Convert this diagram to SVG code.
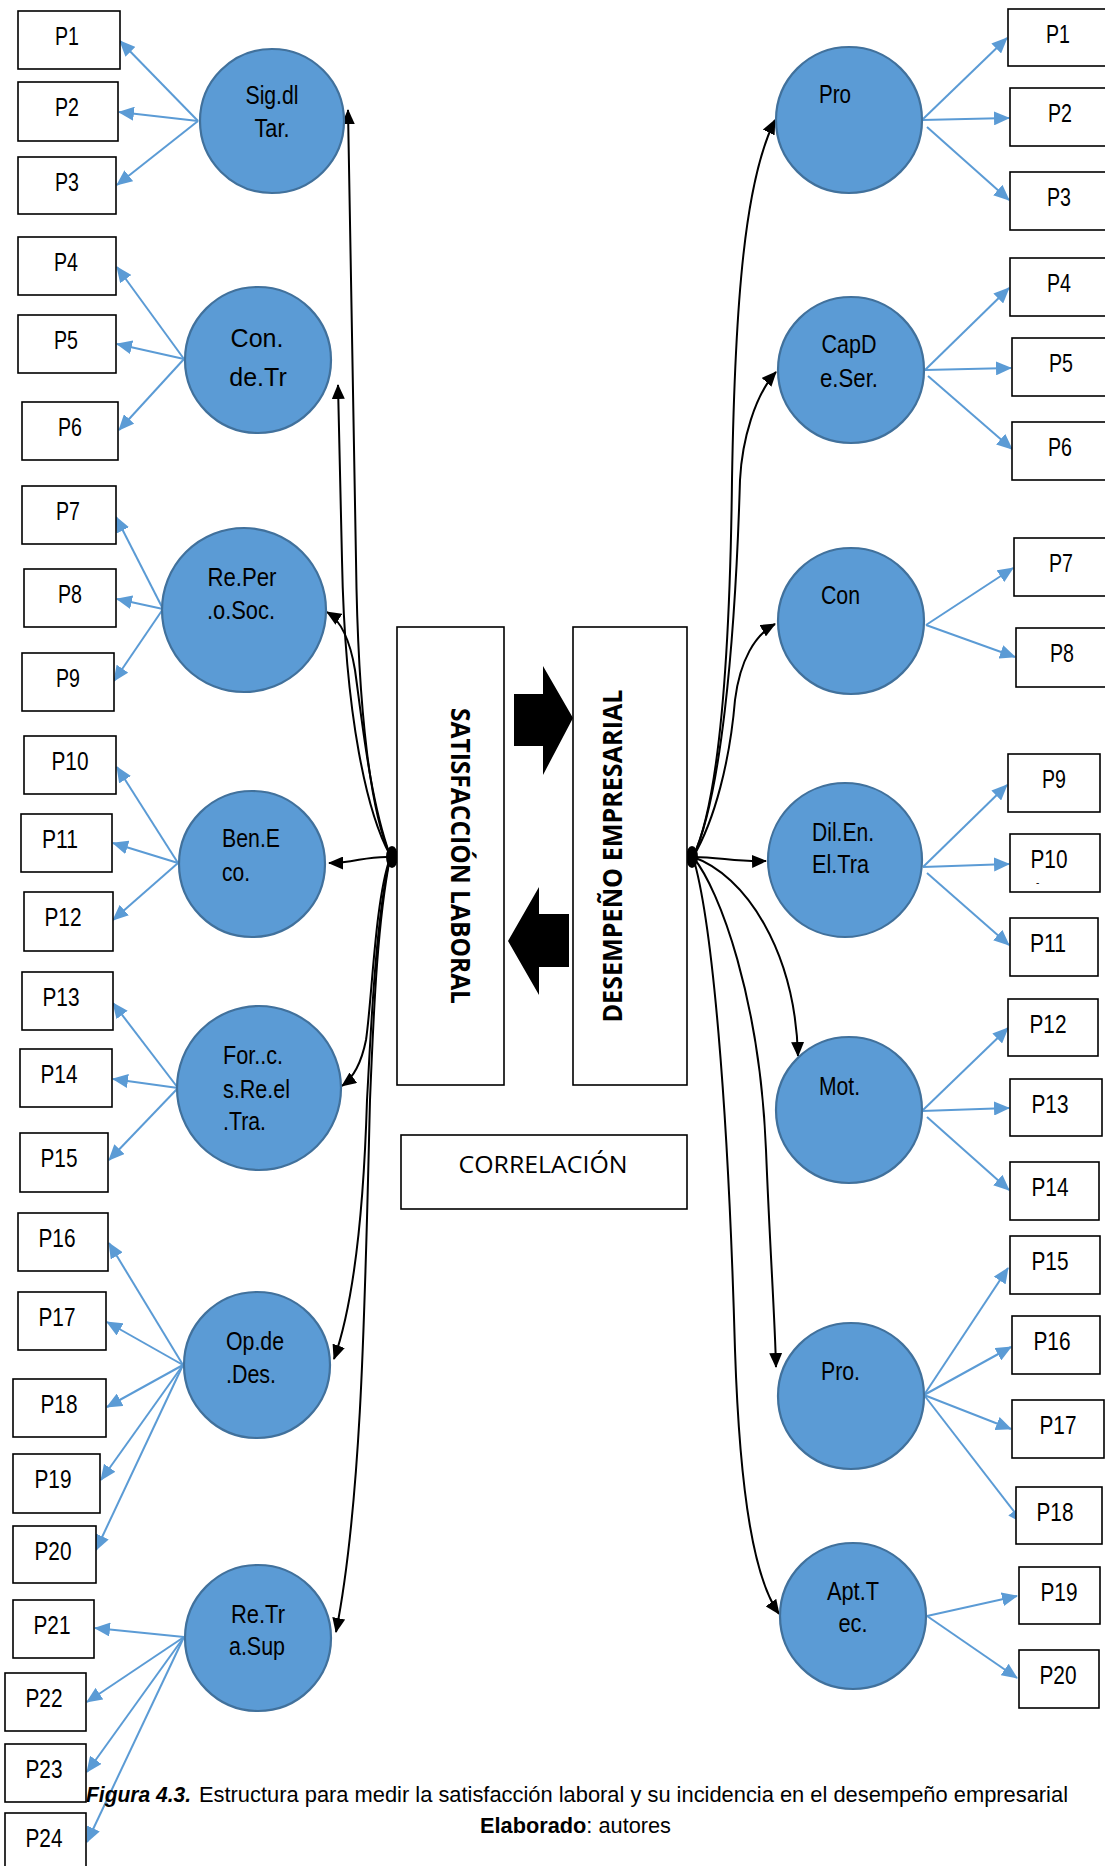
<svg xmlns="http://www.w3.org/2000/svg" width="1105" height="1866" viewBox="0 0 1105 1866">
<defs>
<style>
.box{fill:#fff;stroke:#000;stroke-width:1.6}
.circ{fill:#5B9BD5;stroke:#41719C;stroke-width:2.2}
.pl{font-family:"Liberation Sans Narrow","Arial Narrow","Liberation Sans",sans-serif;font-size:25px;text-anchor:middle;fill:#000}
.cn{font-family:"Liberation Sans Narrow","Arial Narrow","Liberation Sans",sans-serif;font-size:25px;fill:#000}
.cw{font-family:"Liberation Sans",Arial,sans-serif;font-size:25px;fill:#000;text-anchor:middle}
.mid{text-anchor:middle}
.bl{stroke:#5B9BD5;stroke-width:2;fill:none;marker-end:url(#ab)}
.bk{stroke:#000;stroke-width:2;fill:none;marker-end:url(#ak)}
.big{font-family:"Open Sans","Liberation Sans",sans-serif;font-weight:bold;font-size:27px;text-anchor:middle;fill:#000}
.cap{font-family:"Liberation Sans Narrow","Arial Narrow","Liberation Sans",sans-serif;font-size:22px;fill:#000}
</style>
<marker id="ab" markerUnits="userSpaceOnUse" markerWidth="16" markerHeight="14" viewBox="0 0 16 14" refX="15" refY="7" orient="auto"><path d="M0,0 L16,7 L0,14 Z" fill="#5B9BD5"/></marker>
<marker id="ak" markerUnits="userSpaceOnUse" markerWidth="15" markerHeight="13" viewBox="0 0 15 13" refX="14" refY="6.5" orient="auto"><path d="M0,0 L15,6.5 L0,13 Z" fill="#000"/></marker>
</defs>
<rect width="1105" height="1866" fill="#fff"/>

<g id="connectors">
<path class="bk" d="M390,855 C372,815 358,720 356,560 L348,110"/>
<path class="bk" d="M390,855 C368,815 345,720 342,560 L338,385"/>
<path class="bk" d="M390,855 C370,800 362,720 355,670 C350,640 340,620 327,612"/>
<path class="bk" d="M390,857 C365,856 355,863 329,863"/>
<path class="bk" d="M390,858 C375,900 372,1000 366,1040 C361,1065 353,1078 342,1086"/>
<path class="bk" d="M390,858 C375,920 370,1050 367,1100 C364,1200 355,1300 334,1359"/>
<path class="bk" d="M390,858 C378,920 374,1000 370,1100 C365,1300 362,1500 336,1632"/>
<path class="bk" d="M693,857 C720,800 730,650 732,480 C735,300 745,180 775,120"/>
<path class="bk" d="M693,857 C720,800 735,650 740,480 C742,440 755,395 776,372"/>
<path class="bk" d="M693,857 C715,820 730,760 735,700 C740,660 755,635 775,624"/>
<path class="bk" d="M693,857 C720,857 735,862 766,861"/>
<path class="bk" d="M693,857 C745,875 795,950 798,1056"/>
<path class="bk" d="M693,857 C720,890 760,1000 766,1150 C770,1250 775,1320 776,1367"/>
<path class="bk" d="M693,857 C712,920 728,1100 735,1350 C740,1500 755,1580 779,1614"/>
<path class="bl" d="M198,121 L120,41"/>
<path class="bl" d="M198,121 L119,112"/>
<path class="bl" d="M198,121 L117,185"/>
<path class="bl" d="M184,359 L117,267"/>
<path class="bl" d="M184,359 L117,344"/>
<path class="bl" d="M184,359 L119,430"/>
<path class="bl" d="M163,609 L116,517"/>
<path class="bl" d="M163,609 L117,599"/>
<path class="bl" d="M163,609 L114,681"/>
<path class="bl" d="M178,863 L117,767"/>
<path class="bl" d="M178,863 L113,843"/>
<path class="bl" d="M178,863 L113,920"/>
<path class="bl" d="M178,1088 L113,1003"/>
<path class="bl" d="M178,1088 L113,1079"/>
<path class="bl" d="M178,1088 L109,1160"/>
<path class="bl" d="M183,1365 L109,1243"/>
<path class="bl" d="M183,1365 L107,1322"/>
<path class="bl" d="M183,1365 L107,1407"/>
<path class="bl" d="M183,1365 L101,1480"/>
<path class="bl" d="M183,1365 L96,1550"/>
<path class="bl" d="M184,1637 L95,1628"/>
<path class="bl" d="M184,1637 L87,1702"/>
<path class="bl" d="M184,1637 L87,1772"/>
<path class="bl" d="M184,1637 L87,1842"/>
<path class="bl" d="M922,120 L1007,38"/>
<path class="bl" d="M922,120 L1009,118"/>
<path class="bl" d="M927,127 L1009,200"/>
<path class="bl" d="M925,370 L1009,288"/>
<path class="bl" d="M925,370 L1011,368"/>
<path class="bl" d="M928,376 L1012,449"/>
<path class="bl" d="M926,625 L1013,568"/>
<path class="bl" d="M926,625 L1015,657"/>
<path class="bl" d="M923,867 L1007,785"/>
<path class="bl" d="M923,867 L1009,864"/>
<path class="bl" d="M927,873 L1009,945"/>
<path class="bl" d="M922,1111 L1008,1028"/>
<path class="bl" d="M922,1111 L1009,1108"/>
<path class="bl" d="M927,1117 L1009,1190"/>
<path class="bl" d="M924,1395 L1008,1268"/>
<path class="bl" d="M924,1395 L1011,1347"/>
<path class="bl" d="M924,1395 L1011,1429"/>
<path class="bl" d="M924,1395 L1023,1523"/>
<path class="bl" d="M927,1616 L1017,1596"/>
<path class="bl" d="M927,1616 L1017,1678"/>
<ellipse cx="392" cy="857" rx="6" ry="11" fill="#000"/>
<ellipse cx="692" cy="857" rx="6" ry="11" fill="#000"/>
</g>

<g id="satisfaccion">
<rect class="box" x="397" y="627" width="107" height="458" stroke-width="2.4"/>
<text class="big" transform="translate(451,856) rotate(90)" textLength="296" lengthAdjust="spacingAndGlyphs">SATISFACCIÓN LABORAL</text>
</g>
<g id="desempeno">
<rect class="box" x="573" y="627" width="114" height="458" stroke-width="2.4"/>
<text class="big" transform="translate(622,856) rotate(-90)" textLength="333" lengthAdjust="spacingAndGlyphs">DESEMPEÑO EMPRESARIAL</text>
</g>
<g id="block-arrows">
<polygon points="514,694 543,694 543,666 573,718 543,775 543,746 514,746" fill="#000"/>
<polygon points="508,941 539,887 539,914 569,914 569,967 539,967 539,995" fill="#000"/>
</g>
<g id="correlacion">
<rect class="box" x="401" y="1135" width="286" height="74"/>
<text x="543" y="1173" font-family="Open Sans, Liberation Sans, sans-serif" font-size="24" text-anchor="middle" textLength="169" lengthAdjust="spacingAndGlyphs">CORRELACIÓN</text>
</g>

<g id="c-sig"><circle class="circ" cx="272" cy="121" r="72"/><text class="cn mid" x="272" y="104" textLength="53" lengthAdjust="spacingAndGlyphs">Sig.dl</text><text class="cn mid" x="272" y="137" textLength="35" lengthAdjust="spacingAndGlyphs">Tar.</text></g>
<g id="c-con"><circle class="circ" cx="258" cy="360" r="73"/><text class="cw" x="257" y="347">Con.</text><text class="cw" x="258" y="386">de.Tr</text></g>
<g id="c-reper"><circle class="circ" cx="244" cy="610" r="82"/><text class="cn mid" x="242" y="586" textLength="69" lengthAdjust="spacingAndGlyphs">Re.Per</text><text class="cn mid" x="241" y="619" textLength="68" lengthAdjust="spacingAndGlyphs">.o.Soc.</text></g>
<g id="c-ben"><circle class="circ" cx="252" cy="864" r="73"/><text class="cn" x="222" y="847" textLength="58" lengthAdjust="spacingAndGlyphs">Ben.E</text><text class="cn" x="222" y="881" textLength="28" lengthAdjust="spacingAndGlyphs">co.</text></g>
<g id="c-for"><circle class="circ" cx="259" cy="1088" r="82"/><text class="cn" x="223" y="1064" textLength="60" lengthAdjust="spacingAndGlyphs">For..c.</text><text class="cn" x="223" y="1098" textLength="67" lengthAdjust="spacingAndGlyphs">s.Re.el</text><text class="cn" x="223" y="1130" textLength="43" lengthAdjust="spacingAndGlyphs">.Tra.</text></g>
<g id="c-op"><circle class="circ" cx="257" cy="1365" r="73"/><text class="cn" x="226" y="1350" textLength="58" lengthAdjust="spacingAndGlyphs">Op.de</text><text class="cn" x="226" y="1383" textLength="50" lengthAdjust="spacingAndGlyphs">.Des.</text></g>
<g id="c-retr"><circle class="circ" cx="258" cy="1638" r="73"/><text class="cn mid" x="258" y="1623" textLength="54" lengthAdjust="spacingAndGlyphs">Re.Tr</text><text class="cn mid" x="257" y="1655" textLength="56" lengthAdjust="spacingAndGlyphs">a.Sup</text></g>

<g id="c-pro"><circle class="circ" cx="849" cy="120" r="73"/><text class="cn" x="819" y="103" textLength="32" lengthAdjust="spacingAndGlyphs">Pro</text></g>
<g id="c-capd"><circle class="circ" cx="851" cy="370" r="73"/><text class="cn mid" x="849" y="353" textLength="55" lengthAdjust="spacingAndGlyphs">CapD</text><text class="cn mid" x="849" y="387" textLength="58" lengthAdjust="spacingAndGlyphs">e.Ser.</text></g>
<g id="c-con2"><circle class="circ" cx="851" cy="621" r="73"/><text class="cn" x="821" y="604" textLength="39" lengthAdjust="spacingAndGlyphs">Con</text></g>
<g id="c-dil"><circle class="circ" cx="845" cy="860" r="77"/><text class="cn" x="812" y="841" textLength="62" lengthAdjust="spacingAndGlyphs">Dil.En.</text><text class="cn" x="812" y="873" textLength="57" lengthAdjust="spacingAndGlyphs">El.Tra</text></g>
<g id="c-mot"><circle class="circ" cx="849" cy="1110" r="73"/><text class="cn" x="819" y="1095" textLength="41" lengthAdjust="spacingAndGlyphs">Mot.</text></g>
<g id="c-pro2"><circle class="circ" cx="851" cy="1396" r="73"/><text class="cn" x="821" y="1380" textLength="39" lengthAdjust="spacingAndGlyphs">Pro.</text></g>
<g id="c-apt"><circle class="circ" cx="853" cy="1616" r="73"/><text class="cn mid" x="853" y="1600" textLength="52" lengthAdjust="spacingAndGlyphs">Apt.T</text><text class="cn mid" x="853" y="1632" textLength="29" lengthAdjust="spacingAndGlyphs">ec.</text></g>

<g id="L1"><rect class="box" x="18" y="11" width="102" height="58"/><text class="pl" x="67" y="45" textLength="24" lengthAdjust="spacingAndGlyphs">P1</text></g>
<g id="L2"><rect class="box" x="18" y="82" width="100" height="59"/><text class="pl" x="67" y="116" textLength="24" lengthAdjust="spacingAndGlyphs">P2</text></g>
<g id="L3"><rect class="box" x="18" y="157" width="98" height="57"/><text class="pl" x="67" y="191" textLength="24" lengthAdjust="spacingAndGlyphs">P3</text></g>
<g id="L4"><rect class="box" x="18" y="237" width="98" height="58"/><text class="pl" x="66" y="271" textLength="24" lengthAdjust="spacingAndGlyphs">P4</text></g>
<g id="L5"><rect class="box" x="18" y="315" width="98" height="58"/><text class="pl" x="66" y="349" textLength="24" lengthAdjust="spacingAndGlyphs">P5</text></g>
<g id="L6"><rect class="box" x="22" y="402" width="96" height="58"/><text class="pl" x="70" y="436" textLength="24" lengthAdjust="spacingAndGlyphs">P6</text></g>
<g id="L7"><rect class="box" x="22" y="486" width="94" height="58"/><text class="pl" x="68" y="520" textLength="24" lengthAdjust="spacingAndGlyphs">P7</text></g>
<g id="L8"><rect class="box" x="24" y="569" width="92" height="58"/><text class="pl" x="70" y="603" textLength="24" lengthAdjust="spacingAndGlyphs">P8</text></g>
<g id="L9"><rect class="box" x="22" y="653" width="92" height="58"/><text class="pl" x="68" y="687" textLength="24" lengthAdjust="spacingAndGlyphs">P9</text></g>
<g id="L10"><rect class="box" x="24" y="736" width="92" height="58"/><text class="pl" x="70" y="770" textLength="37" lengthAdjust="spacingAndGlyphs">P10</text></g>
<g id="L11"><rect class="box" x="21" y="814" width="91" height="58"/><text class="pl" x="60" y="848" textLength="36" lengthAdjust="spacingAndGlyphs">P11</text></g>
<g id="L12"><rect class="box" x="24" y="892" width="89" height="59"/><text class="pl" x="63" y="926" textLength="37" lengthAdjust="spacingAndGlyphs">P12</text></g>
<g id="L13"><rect class="box" x="22" y="972" width="91" height="58"/><text class="pl" x="61" y="1006" textLength="37" lengthAdjust="spacingAndGlyphs">P13</text></g>
<g id="L14"><rect class="box" x="20" y="1049" width="92" height="58"/><text class="pl" x="59" y="1083" textLength="37" lengthAdjust="spacingAndGlyphs">P14</text></g>
<g id="L15"><rect class="box" x="20" y="1133" width="88" height="59"/><text class="pl" x="59" y="1167" textLength="37" lengthAdjust="spacingAndGlyphs">P15</text></g>
<g id="L16"><rect class="box" x="18" y="1213" width="90" height="58"/><text class="pl" x="57" y="1247" textLength="37" lengthAdjust="spacingAndGlyphs">P16</text></g>
<g id="L17"><rect class="box" x="18" y="1292" width="88" height="58"/><text class="pl" x="57" y="1326" textLength="37" lengthAdjust="spacingAndGlyphs">P17</text></g>
<g id="L18"><rect class="box" x="13" y="1379" width="93" height="58"/><text class="pl" x="59" y="1413" textLength="37" lengthAdjust="spacingAndGlyphs">P18</text></g>
<g id="L19"><rect class="box" x="13" y="1454" width="87" height="59"/><text class="pl" x="53" y="1488" textLength="37" lengthAdjust="spacingAndGlyphs">P19</text></g>
<g id="L20"><rect class="box" x="13" y="1526" width="83" height="57"/><text class="pl" x="53" y="1560" textLength="37" lengthAdjust="spacingAndGlyphs">P20</text></g>
<g id="L21"><rect class="box" x="13" y="1600" width="81" height="58"/><text class="pl" x="52" y="1634" textLength="37" lengthAdjust="spacingAndGlyphs">P21</text></g>
<g id="L22"><rect class="box" x="5" y="1673" width="81" height="58"/><text class="pl" x="44" y="1707" textLength="37" lengthAdjust="spacingAndGlyphs">P22</text></g>
<g id="L23"><rect class="box" x="5" y="1744" width="81" height="58"/><text class="pl" x="44" y="1778" textLength="37" lengthAdjust="spacingAndGlyphs">P23</text></g>
<g id="L24"><rect class="box" x="5" y="1813" width="81" height="60"/><text class="pl" x="44" y="1847" textLength="37" lengthAdjust="spacingAndGlyphs">P24</text></g>

<g id="R1"><rect class="box" x="1008" y="9" width="104" height="57"/><text class="pl" x="1058" y="43" textLength="24" lengthAdjust="spacingAndGlyphs">P1</text></g>
<g id="R2"><rect class="box" x="1010" y="88" width="102" height="58"/><text class="pl" x="1060" y="122" textLength="24" lengthAdjust="spacingAndGlyphs">P2</text></g>
<g id="R3"><rect class="box" x="1010" y="172" width="102" height="58"/><text class="pl" x="1059" y="206" textLength="24" lengthAdjust="spacingAndGlyphs">P3</text></g>
<g id="R4"><rect class="box" x="1010" y="258" width="102" height="58"/><text class="pl" x="1059" y="292" textLength="24" lengthAdjust="spacingAndGlyphs">P4</text></g>
<g id="R5"><rect class="box" x="1012" y="338" width="100" height="58"/><text class="pl" x="1061" y="372" textLength="24" lengthAdjust="spacingAndGlyphs">P5</text></g>
<g id="R6"><rect class="box" x="1012" y="422" width="100" height="58"/><text class="pl" x="1060" y="456" textLength="24" lengthAdjust="spacingAndGlyphs">P6</text></g>
<g id="R7"><rect class="box" x="1014" y="538" width="98" height="58"/><text class="pl" x="1061" y="572" textLength="24" lengthAdjust="spacingAndGlyphs">P7</text></g>
<g id="R8"><rect class="box" x="1016" y="628" width="96" height="59"/><text class="pl" x="1062" y="662" textLength="24" lengthAdjust="spacingAndGlyphs">P8</text></g>
<g id="R9"><rect class="box" x="1008" y="754" width="92" height="58"/><text class="pl" x="1054" y="788" textLength="24" lengthAdjust="spacingAndGlyphs">P9</text></g>
<g id="R10"><rect class="box" x="1010" y="834" width="90" height="58"/><text class="pl" x="1049" y="868" textLength="37" lengthAdjust="spacingAndGlyphs">P10</text><text x="1036" y="886" font-family="Liberation Sans, sans-serif" font-size="10">-</text></g>
<g id="R11"><rect class="box" x="1010" y="918" width="88" height="58"/><text class="pl" x="1048" y="952" textLength="36" lengthAdjust="spacingAndGlyphs">P11</text></g>
<g id="R12"><rect class="box" x="1008" y="999" width="90" height="57"/><text class="pl" x="1048" y="1033" textLength="37" lengthAdjust="spacingAndGlyphs">P12</text></g>
<g id="R13"><rect class="box" x="1010" y="1079" width="92" height="57"/><text class="pl" x="1050" y="1113" textLength="37" lengthAdjust="spacingAndGlyphs">P13</text></g>
<g id="R14"><rect class="box" x="1010" y="1162" width="89" height="58"/><text class="pl" x="1050" y="1196" textLength="37" lengthAdjust="spacingAndGlyphs">P14</text></g>
<g id="R15"><rect class="box" x="1010" y="1236" width="90" height="58"/><text class="pl" x="1050" y="1270" textLength="37" lengthAdjust="spacingAndGlyphs">P15</text></g>
<g id="R16"><rect class="box" x="1012" y="1316" width="88" height="58"/><text class="pl" x="1052" y="1350" textLength="37" lengthAdjust="spacingAndGlyphs">P16</text></g>
<g id="R17"><rect class="box" x="1012" y="1400" width="92" height="58"/><text class="pl" x="1058" y="1434" textLength="37" lengthAdjust="spacingAndGlyphs">P17</text></g>
<g id="R18"><rect class="box" x="1016" y="1487" width="86" height="57"/><text class="pl" x="1055" y="1521" textLength="37" lengthAdjust="spacingAndGlyphs">P18</text></g>
<g id="R19"><rect class="box" x="1019" y="1567" width="81" height="57"/><text class="pl" x="1059" y="1601" textLength="37" lengthAdjust="spacingAndGlyphs">P19</text></g>
<g id="R20"><rect class="box" x="1019" y="1650" width="80" height="58"/><text class="pl" x="1058" y="1684" textLength="37" lengthAdjust="spacingAndGlyphs">P20</text></g>

<g id="caption">
<text class="cap" x="86" y="1802" font-size="23" font-weight="bold" font-style="italic" textLength="105" lengthAdjust="spacingAndGlyphs">Figura 4.3.</text>
<text class="cap" x="199" y="1802" textLength="869" lengthAdjust="spacingAndGlyphs">Estructura para medir la satisfacción laboral y su incidencia en el desempeño empresarial</text>
<text class="cap" x="480" y="1833" font-size="23" textLength="191" lengthAdjust="spacingAndGlyphs"><tspan font-weight="bold">Elaborado</tspan>: autores</text>
</g>
</svg>
